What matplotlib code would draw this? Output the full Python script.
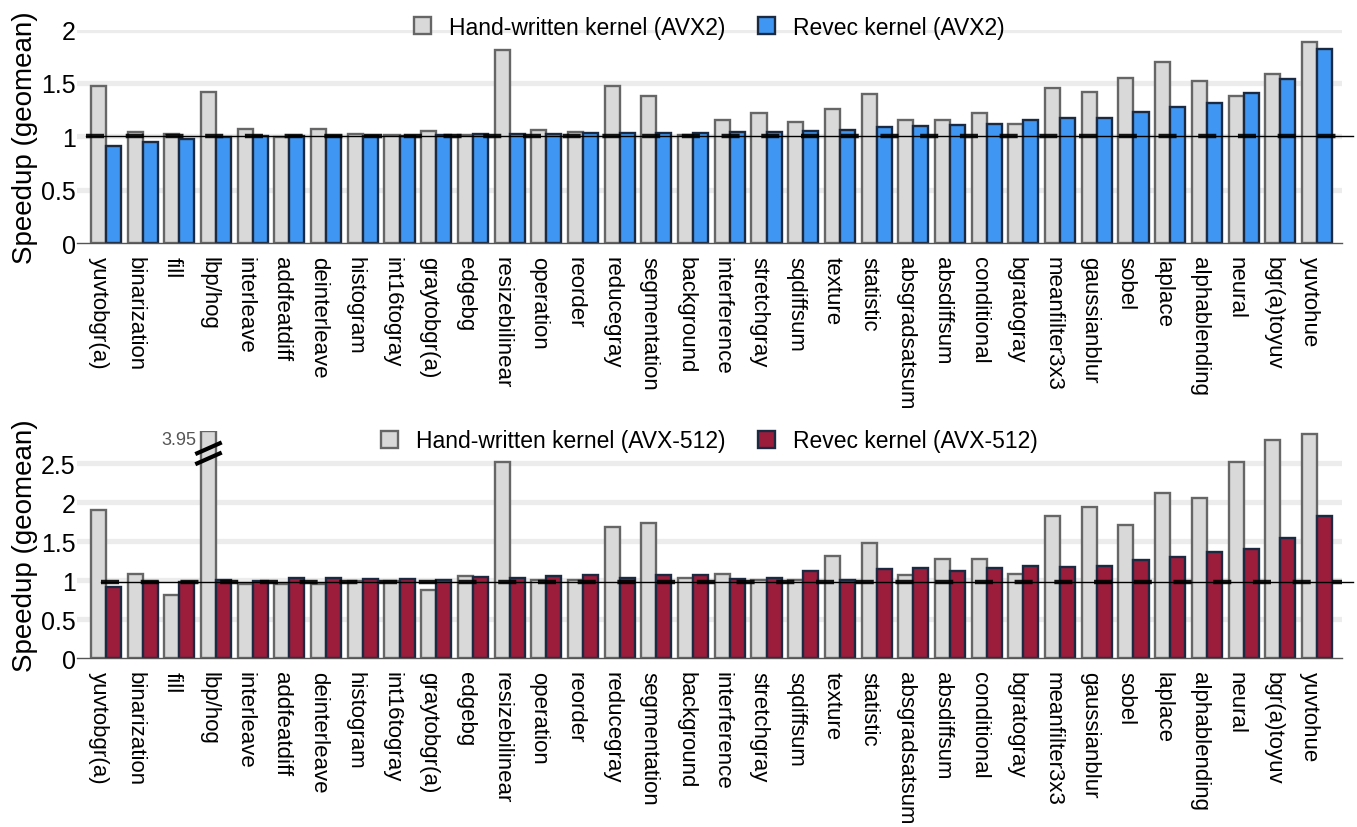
import matplotlib.pyplot as plt
import numpy as np

plt.rcParams['font.family'] = ['Liberation Sans', 'DejaVu Sans']
plt.rcParams['lines.scale_dashes'] = False

kernels = ['yuvtobgr(a)', 'binarization', 'fill', 'lbp/hog', 'interleave',
           'addfeatdiff', 'deinterleave', 'histogram', 'int16togray',
           'graytobgr(a)', 'edgebg', 'resizebilinear', 'operation', 'reorder',
           'reducegray', 'segmentation', 'background', 'interference',
           'stretchgray', 'sqdiffsum', 'texture', 'statistic', 'absgradsatsum',
           'absdiffsum', 'conditional', 'bgratogray', 'meanfilter3x3',
           'gaussianblur', 'sobel', 'laplace', 'alphablending', 'neural',
           'bgr(a)toyuv', 'yuvtohue']

hand_avx2 = [1.47, 1.04, 1.02, 1.42, 1.07, 0.99, 1.07, 1.025, 1.015, 1.05,
             1.016, 1.81, 1.06, 1.044, 1.47, 1.38, 1.016, 1.155, 1.22, 1.13,
             1.26, 1.40, 1.157, 1.157, 1.22, 1.12, 1.45, 1.42, 1.55, 1.70,
             1.52, 1.38, 1.58, 1.88]
revec_avx2 = [0.91, 0.95, 0.975, 0.99, 1.0, 1.0, 1.0, 1.0, 1.005, 1.01,
              1.02, 1.02, 1.022, 1.03, 1.03, 1.035, 1.035, 1.04, 1.044, 1.05,
              1.056, 1.088, 1.10, 1.11, 1.117, 1.154, 1.17, 1.173, 1.23, 1.273,
              1.308, 1.41, 1.533, 1.816]

hand_avx512 = [1.90, 1.077, 0.815, 3.95, 0.95, 0.96, 0.96, 0.99, 0.99, 0.88,
               1.06, 2.525, 1.004, 1.01, 1.68, 1.735, 1.03, 1.08, 1.01, 1.01,
               1.315, 1.478, 1.068, 1.273, 1.28, 1.08, 1.824, 1.944, 1.713,
               2.123, 2.06, 2.513, 2.795, 2.88]
revec_avx512 = [0.918, 0.982, 0.985, 1.0, 0.99, 1.03, 1.03, 1.017, 1.017,
                1.004, 1.046, 1.03, 1.055, 1.064, 1.035, 1.068, 1.068, 1.017,
                1.03, 1.12, 1.004, 1.14, 1.16, 1.12, 1.154, 1.18, 1.167, 1.18,
                1.256, 1.295, 1.363, 1.40, 1.546, 1.828]

GRAY = '#d9d9d9'
GRAY_EDGE = '#666666'
BLUE = '#3f97f3'
RED = '#9b1d3b'
NAVY = '#1b2a41'

fig = plt.figure(figsize=(13.57, 8.28), dpi=100)
ax_top = fig.add_axes([0.0567, 0.7053, 0.9322, 0.2577])
ax_bot = fig.add_axes([0.0567, 0.2037, 0.9322, 0.2749])

x = np.arange(len(kernels))
w = 0.41


def draw_panel(ax, hand, revec, color, tag, ymax, yticks, line_y, line_x0,
               legend_y):
    for t in yticks[1:]:
        ax.axhline(t, color='#ececec', lw=3.8, zorder=0)
    ax.bar(x - w / 2, np.minimum(hand, ymax), w, color=GRAY,
           edgecolor=GRAY_EDGE, linewidth=1.7, zorder=2,
           label=f'Hand-written kernel ({tag})')
    ax.bar(x + w / 2, revec, w, color=color, edgecolor=NAVY, linewidth=1.7,
           zorder=2, label=f'Revec kernel ({tag})')
    x1 = len(kernels) - 0.02
    ax.plot([line_x0, x1], [line_y, line_y], color='black', lw=1.0,
            zorder=4, clip_on=False)
    ax.plot([line_x0, x1 - 0.3], [line_y, line_y], color='black', lw=3.2,
            dashes=(13, 15.6), zorder=4, alpha=0.9, clip_on=False)
    ax.set_xlim(-0.79, len(kernels) - 0.32)
    ax.set_ylim(0, ymax)
    ax.set_yticks(yticks)
    ax.set_yticklabels([f'{t:g}' for t in yticks])
    ax.set_xticks(x - w / 2)
    ax.set_xticklabels(kernels, rotation=-90, ha='center', va='top')
    ax.tick_params(axis='y', length=0, pad=1, labelsize=18)
    ax.tick_params(axis='x', length=0, pad=9, labelsize=16)
    for s in ['top', 'right', 'left']:
        ax.spines[s].set_visible(False)
    ax.spines['bottom'].set_color('#555555')
    ax.spines['bottom'].set_linewidth(1.0)
    ax.set_ylabel('Speedup (geomean)', fontsize=20)
    ax.yaxis.set_label_coords(-0.031, 0.5)
    ax.legend(loc='center', bbox_to_anchor=(0.5, legend_y), ncol=2,
              frameon=False, fontsize=16.5, handlelength=0.75,
              handleheight=0.75, handletextpad=0.8, columnspacing=1.4)


draw_panel(ax_top, hand_avx2, revec_avx2, BLUE, 'AVX2', 2.0,
           [0, 0.5, 1, 1.5, 2], 1.0, -0.55, 1.012)
draw_panel(ax_bot, hand_avx512, revec_avx512, RED, 'AVX-512', 2.92,
           [0, 0.5, 1, 1.5, 2, 2.5], 0.975, -0.14, 0.955)

# broken bar marker for the clipped lbp/hog value
i_big = int(np.argmax(hand_avx512))
bx = x[i_big] - w / 2
for dy in (0.0, -0.13):
    ax_bot.plot([bx - 0.36, bx + 0.36], [2.62 + dy, 2.77 + dy],
                color='black', lw=3.0, zorder=5, clip_on=False,
                solid_capstyle='butt')
ax_bot.text(bx - 0.33, 2.81, f'{hand_avx512[i_big]:.2f}', ha='right',
            va='center', fontsize=13, color='#555555')

plt.savefig('out.png', dpi=100)
